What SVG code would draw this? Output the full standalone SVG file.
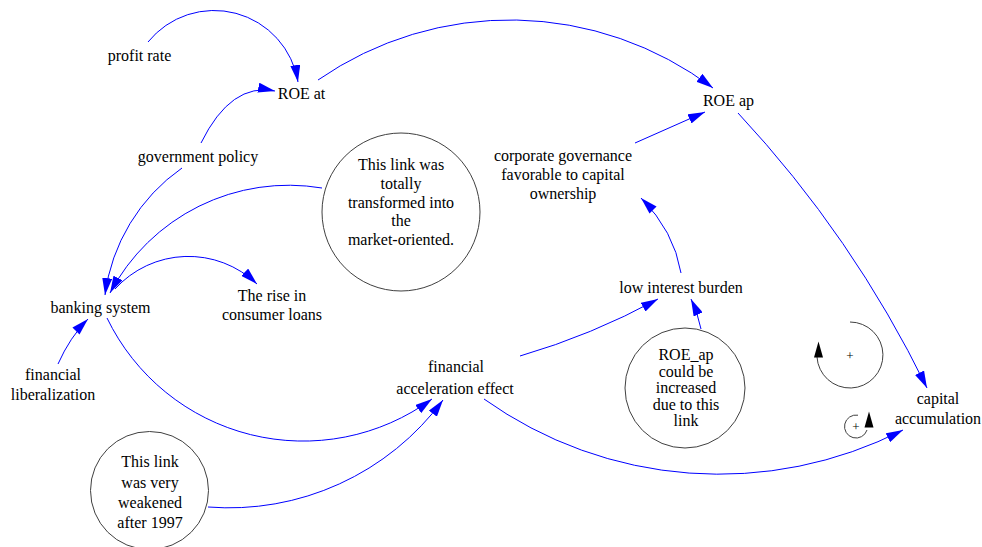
<svg xmlns="http://www.w3.org/2000/svg" width="982" height="547" viewBox="0 0 982 547" font-family="'Liberation Serif', 'Times New Roman', 'DejaVu Serif', serif">
<style>
text{font-family:'Liberation Serif','Times New Roman','DejaVu Serif',serif;font-size:16px;fill:#000;text-anchor:middle}
.lnk{fill:none;stroke:#0000ff;stroke-width:1;marker-end:url(#ah)}
.cmt{fill:#fff;stroke:#404040;stroke-width:1}
.loop{fill:none;stroke:#404040;stroke-width:1}
.lp{font-size:13px}
</style>
<defs>
<marker id="ah" markerUnits="userSpaceOnUse" markerWidth="17" markerHeight="10" viewBox="0 0 17 10" refX="17" refY="5" orient="auto">
<path d="M0,0 L17,5 L0,10 z" fill="#0000ff"/>
</marker>
</defs>
<rect width="982" height="547" fill="#fff"/>
<g id="connectors">
<path class="lnk" d="M148,42 A85,85 0 0,1 298,82"/>
<path class="lnk" d="M201,143 Q231,82 275,91"/>
<path class="lnk" d="M318,80 A337,337 0 0,1 713,88"/>
<path class="lnk" d="M635,143 L705,112"/>
<path class="lnk" d="M738,113 A1130,1130 0 0,1 927,388"/>
<path class="lnk" d="M681,273 Q674,231 641,198"/>
<path class="lnk" d="M520,356 Q592,335 658,299"/>
<path class="lnk" d="M701,329 Q698,314 691,299"/>
<path class="lnk" d="M484,399 A405,405 0 0,0 903,430"/>
<path class="lnk" d="M107,318 A218,218 0 0,0 432,399"/>
<path class="lnk" d="M208,507 A266,266 0 0,0 443,400"/>
<path class="lnk" d="M182,168 A184,184 0 0,0 105,295"/>
<path class="lnk" d="M322,188 A202,202 0 0,0 110,293"/>
<path class="lnk" d="M115,289 A99,99 0 0,1 257,284"/>
<path class="lnk" d="M58,364 Q70,337 88,319"/>
</g>
<g id="profit_rate"><text x="139.5" y="60.5">profit rate</text></g>
<g id="roe_at"><text x="301.5" y="99">ROE at</text></g>
<g id="government_policy"><text x="198" y="162">government policy</text></g>
<g id="roe_ap"><text x="728.5" y="106">ROE ap</text></g>
<g id="corporate_governance">
<text x="563" y="161">corporate governance</text>
<text x="563" y="180">favorable to capital</text>
<text x="563" y="199">ownership</text>
</g>
<g id="low_interest_burden"><text x="681" y="293">low interest burden</text></g>
<g id="financial_acceleration_effect">
<text x="456" y="372">financial</text>
<text x="455" y="394">acceleration effect</text>
</g>
<g id="banking_system"><text x="100.5" y="313">banking system</text></g>
<g id="consumer_loans">
<text x="272" y="301">The rise in</text>
<text x="272" y="320">consumer loans</text>
</g>
<g id="financial_liberalization">
<text x="53" y="380">financial</text>
<text x="53" y="400">liberalization</text>
</g>
<g id="capital_accumulation">
<text x="938" y="404">capital</text>
<text x="938" y="424">accumulation</text>
</g>
<g id="comment_transformed">
<circle class="cmt" cx="401" cy="212" r="79"/>
<text x="401" y="170">This link was</text>
<text x="401" y="189">totally</text>
<text x="401" y="207.5">transformed into</text>
<text x="401" y="226">the</text>
<text x="401" y="245">market-oriented.</text>
</g>
<g id="comment_roe_ap">
<circle class="cmt" cx="685" cy="388" r="60"/>
<text x="686" y="360">ROE_ap</text>
<text x="686" y="376.5">could be</text>
<text x="686" y="393">increased</text>
<text x="686" y="409.5">due to this</text>
<text x="686" y="426">link</text>
</g>
<g id="comment_weakened">
<circle class="cmt" cx="149.5" cy="490.5" r="59"/>
<text x="150" y="467">This link</text>
<text x="150" y="488">was very</text>
<text x="150" y="508">weakened</text>
<text x="150" y="528">after 1997</text>
</g>
<g id="loop_large">
<path class="loop" d="M850,322 A33,33 0 1,1 817,357"/>
<path d="M818.5,341.5 L823,357.5 L814,357.5 z" fill="#000"/>
<text class="lp" x="850" y="359.5">+</text>
</g>
<g id="loop_small">
<path class="loop" d="M858,415.2 A11.5,11.5 0 1,0 867,430"/>
<path d="M869,411.5 L873.5,427.5 L864.5,427.5 z" fill="#000"/>
<text class="lp" x="855.8" y="431">+</text>
</g>
</svg>
